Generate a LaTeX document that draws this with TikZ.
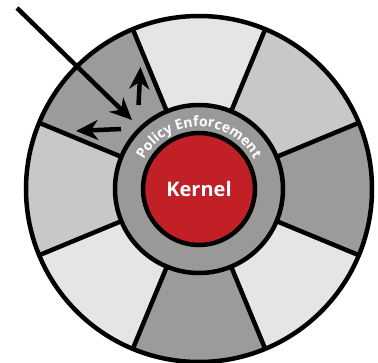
\documentclass[tikz,border=0pt]{standalone}
\usepackage{fontspec}
\setmainfont{Open Sans}
\usetikzlibrary{arrows.meta,decorations.text}
\definecolor{lightsec}{HTML}{E5E5E5}
\definecolor{midsec}{HTML}{C8C8C8}
\definecolor{darksec}{HTML}{9B9B9B}
\definecolor{ringgray}{HTML}{999999}
\definecolor{kernelred}{RGB}{192,32,38}
\begin{document}
\begin{tikzpicture}[x=1pt,y=1pt,
  divider/.style={line width=4.5pt,black},
  ringline/.style={circle,draw=black,line width=4.5pt,inner sep=0pt},
  bigarrow/.style={line width=4.5pt,black,-{Stealth[length=22pt,width=20pt,inset=7pt]}},
]
\useasboundingbox (0,0) rectangle (378,362);
\coordinate (C) at (199,173);
\def\rin{84}\def\rout{173}
\foreach \a/\col in {22.5/midsec, 67.5/lightsec, 112.5/darksec, 157.5/midsec, 202.5/lightsec, 247.5/darksec, 292.5/lightsec, 337.5/darksec}{
  \pgfmathsetmacro\b{\a+45}
  \fill[\col] ([shift={(\a:\rin)}]C) arc[start angle=\a, end angle=\b, radius=\rin]
     -- ([shift={(\b:\rout)}]C) arc[start angle=\b, end angle=\a, radius=\rout] -- cycle;
}
\foreach \a in {22.5,67.5,...,337.5}{
  \draw[divider] ([shift={(\a:\rin)}]C) -- ([shift={(\a:\rout)}]C);
}
\node[ringline,minimum size=346pt] (outer) at (C) {};
\node[ringline,fill=ringgray,minimum size=168pt] (ring) at (C) {};
\node[ringline,fill=kernelred,minimum size=112pt,text=white,font=\bfseries\fontsize{20}{20}\selectfont] (kernel) at (C) {Kernel};
\path[decorate,decoration={text along path,text align=center,
  text={|\bfseries\fontsize{14}{14}\selectfont\color{white}|Policy Enforcement}}]
  ([shift={(152:62.5)}]C) arc[start angle=152,end angle=28,radius=62.5];
\coordinate (src) at (17,354);
\coordinate (srcTip) at (132,242);
\coordinate (upA) at (138.5,257);
\coordinate (upB) at (140.5,295);
\coordinate (lfA) at (121,233);
\coordinate (lfB) at (76,231);
\draw[bigarrow] (src) -- (srcTip);
\draw[bigarrow] (upA) -- (upB);
\draw[bigarrow] (lfA) -- (lfB);
\end{tikzpicture}
\end{document}
